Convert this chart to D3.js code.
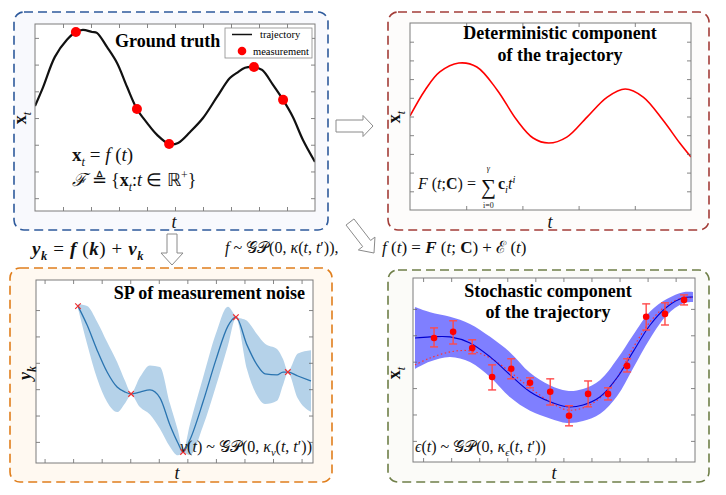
<!DOCTYPE html>
<html><head><meta charset="utf-8">
<script src="https://cdn.jsdelivr.net/npm/d3@7"></script>
<style>body{margin:0;background:#fff}svg{display:block}text{white-space:pre}</style>
</head><body><svg id="c" width="726" height="495"></svg>
<script>
// ---------------- DATA ----------------
// Panel 1: ground truth trajectory
const gtT = [0,0.29,0.71,1.14,1.46,1.71,2.04,2.21,2.57,2.93,3.29,3.64,4.00,4.36,4.79,5.11,5.54,6.00,6.50,6.96,7.21,7.50,7.82,8.11,8.50,8.86,9.21,9.57,10];
const gtX = [4.45,5.16,6.29,6.93,7.22,7.30,7.22,7.19,6.66,6.06,5.16,4.34,3.82,3.37,3.03,3.07,3.48,4.00,4.79,5.50,5.69,5.88,5.91,5.80,5.24,4.68,4.04,3.18,2.36];
const gtMeasT = [1.46,3.64,4.79,7.82,8.86];
const gtMeasX = [7.22,4.34,3.03,5.91,4.68];
const gtXTicks = [1,2,3,4,5,6,7,8,9];
const gtYTicks = [1,2,3,4,5,6,7];

// Panel 2: deterministic component
const detT = [0,0.27,0.53,0.87,1.19,1.55,1.90,2.19,2.47,2.79,3.15,3.51,3.83,4.15,4.50,4.80,5.00];
const detX = [5.03,6.42,7.38,7.86,7.65,6.42,4.81,3.85,3.58,3.90,4.97,6.04,6.47,6.04,4.81,3.58,2.83];
const detXTicks = [1,2,3,4];
const detYTicks = [1,2,3,4,5,6,7,8,9];

// Panel 3: SP of measurement noise
const noiseT = [1.17,1.49,1.84,2.19,2.54,2.82,3.03,3.34,3.69,4.04,4.39,4.67,4.85,5.09,5.55,6.00,6.42,6.70,7.09,7.44,7.72,8.14,8.35,8.52,8.87,9.33];
const noiseMean = [5.15,4.43,3.48,2.65,2.08,1.89,1.82,1.89,1.97,1.67,0.64,-0.04,-0.38,0.08,1.52,3.11,4.39,4.73,3.67,2.92,2.58,2.54,2.65,2.65,2.50,2.31];
const noiseSd = [0.08,0.72,1.08,1.14,0.95,0.42,0.04,0.57,0.93,1.17,0.82,0.47,0.04,0.58,0.92,1.00,0.74,0.04,0.92,1.16,1.14,0.98,0.49,0.04,0.85,1.17];
const noiseMeasT = [1.17,3.03,4.85,6.70,8.52];
const noiseMeasV = [5.15,1.82,-0.38,4.73,2.65];
const noiseXTicks = [0,1,2,3,4,5,6,7,8,9];
const noiseYTicks = [0,1,2,3,4,5];

// Panel 4: stochastic component
const stoT = [-0.29,0.25,0.96,1.67,2.39,3.10,3.81,4.52,5.13,5.70,6.31,6.91,7.48,8.09,8.70,9.27,9.62];
const stoMean = [3.90,3.94,3.94,3.71,3.18,2.50,1.86,1.48,1.29,1.36,1.67,2.39,3.37,4.39,5.08,5.42,5.45];
const stoSd = [1.17,0.93,0.76,0.72,0.76,0.85,0.72,0.63,0.61,0.61,0.64,0.70,0.63,0.51,0.30,0.21,0.19];
const stoDet = [2.88,3.14,3.37,3.41,3.14,2.61,2.01,1.48,1.17,1.25,1.63,2.39,3.52,4.51,5.15,5.42,5.42];
const obsT = [0.39,1.07,1.75,2.46,3.14,3.81,4.53,5.20,5.88,6.59,7.27,7.95,8.62,9.30];
const obsV = [3.90,4.13,3.52,2.42,2.73,2.20,1.86,0.95,1.78,1.78,2.84,4.70,4.81,5.34];
const obsLo = [3.56,3.67,3.30,1.93,2.35,2.01,1.36,0.57,1.29,1.55,2.61,4.20,4.39,5.15];
const obsHi = [4.28,4.55,3.83,2.88,3.11,2.39,2.35,1.33,2.27,2.01,3.11,5.19,5.23,5.53];
const stoXTicks = [0,1,2,3,4,5,6,7,8,9];
const stoYTicks = [0,1,2,3,4,5];

// ---------------- LAYOUT ----------------
const serif = "'Liberation Serif','Times New Roman',serif";
const svg = d3.select('#c');

function styleOf(sel, st) {
  if (st.includes('i')) sel.attr('font-style', 'italic');
  if (st.includes('b')) sel.attr('font-weight', 'bold');
}
function measure(s, size, st = '') {
  const t = svg.append('text').attr('font-family', serif).attr('font-size', size).text(s);
  styleOf(t, st);
  const w = t.node().getComputedTextLength();
  t.remove();
  return w;
}
// parts: [text, style, extra]; style: i=italic, b=bold, _=subscript, ^=superscript
function mtext(g, x, y, parts, fs, opts = {}) {
  const t = g.append('text').attr('x', x).attr('y', y)
    .attr('font-family', serif).attr('font-size', fs).attr('fill', '#111');
  if (opts.anchor) t.attr('text-anchor', opts.anchor);
  if (opts.transform) t.attr('transform', opts.transform);
  if (opts.ls) t.attr('letter-spacing', opts.ls);
  let cur = 0;
  parts.forEach(p => {
    const s = p[0], st = p[1] || '', ex = p[2] || {};
    const sp = t.append('tspan').text(s);
    let off = 0, size = fs;
    if (st.includes('_')) { off = fs * 0.28; size = fs * 0.66; }
    if (st.includes('^')) { off = -fs * 0.38; size = fs * 0.66; }
    if (ex.off !== undefined) off = ex.off;
    if (ex.size !== undefined) size = ex.size;
    sp.attr('dy', off - cur); cur = off;
    if (ex.dx !== undefined) sp.attr('dx', ex.dx);
    sp.attr('font-size', size);
    styleOf(sp, st);
  });
  return t;
}

function panel(cfg, id) {
  const [bx0, by0, bx1, by1] = cfg.box;
  svg.append('rect').attr('x', bx0).attr('y', by0).attr('width', bx1 - bx0).attr('height', by1 - by0)
    .attr('rx', 10).attr('fill', cfg.fill).attr('stroke', cfg.stroke)
    .attr('stroke-width', 1.6).attr('stroke-dasharray', '9,5');
  const [px0, py0, px1, py1] = cfg.plot;
  const x = d3.scaleLinear().domain(cfg.xDom).range([px0, px1]);
  const y = d3.scaleLinear().domain(cfg.yDom).range([py1, py0]);
  const g = svg.append('g');
  g.append('rect').attr('x', px0).attr('y', py0).attr('width', px1 - px0).attr('height', py1 - py0)
    .attr('fill', '#fff');
  svg.append('clipPath').attr('id', id).append('rect')
    .attr('x', px0).attr('y', py0).attr('width', px1 - px0).attr('height', py1 - py0);
  const inner = g.append('g').attr('clip-path', `url(#${id})`);
  const axes = [
    [d3.axisBottom(x).tickValues(cfg.xTicks), `translate(0,${py1})`],
    [d3.axisTop(x).tickValues(cfg.xTicks), `translate(0,${py0})`],
    [d3.axisLeft(y).tickValues(cfg.yTicks), `translate(${px0},0)`],
    [d3.axisRight(y).tickValues(cfg.yTicks), `translate(${px1},0)`]
  ];
  const top = svg.append('g');
  axes.forEach(([ax, tr]) => {
    const a = top.append('g').attr('transform', tr)
      .call(ax.tickSize(-4).tickSizeOuter(0).tickFormat(''));
    a.select('.domain').remove();
    a.selectAll('line').attr('stroke', '#666').attr('stroke-width', 0.8);
  });
  top.append('rect').attr('x', px0).attr('y', py0).attr('width', px1 - px0).attr('height', py1 - py0)
    .attr('fill', 'none').attr('stroke', '#7d7d7d').attr('stroke-width', 1);
  return { g, inner, top, x, y };
}

function arrow(x0, y0, x1, y1, sw, hw, hl) {
  const L = Math.hypot(x1 - x0, y1 - y0), ux = (x1 - x0) / L, uy = (y1 - y0) / L;
  const nx = -uy, ny = ux;
  const bx = x1 - ux * hl, by = y1 - uy * hl;
  const pts = [
    [x0 + nx * sw / 2, y0 + ny * sw / 2], [bx + nx * sw / 2, by + ny * sw / 2],
    [bx + nx * hw / 2, by + ny * hw / 2], [x1, y1],
    [bx - nx * hw / 2, by - ny * hw / 2], [bx - nx * sw / 2, by - ny * sw / 2],
    [x0 - nx * sw / 2, y0 - ny * sw / 2]
  ];
  svg.append('polygon').attr('points', pts.map(p => p.join(',')).join(' '))
    .attr('fill', '#fff').attr('stroke', '#8a8a8a').attr('stroke-width', 1);
}

// ---------------- PANEL 1 ----------------
{
  const P = panel({ box: [14, 12, 328, 230], fill: '#f8f9fd', stroke: '#2e5a9c',
    plot: [35, 24, 315, 211], xDom: [0, 10], yDom: [0.52, 7.52], xTicks: gtXTicks, yTicks: gtYTicks }, 'c1');
  const line = d3.line().x((d, i) => P.x(gtT[i])).y(d => P.y(d)).curve(d3.curveCatmullRom.alpha(0.5));
  P.inner.append('path').attr('d', line(gtX)).attr('fill', 'none').attr('stroke', '#111').attr('stroke-width', 2.2);
  P.inner.selectAll('circle.m').data(gtMeasX).join('circle')
    .attr('cx', (d, i) => P.x(gtMeasT[i])).attr('cy', d => P.y(d)).attr('r', 5).attr('fill', '#f00');
  P.top.append('text').attr('x', 115).attr('y', 47).attr('font-family', serif).attr('font-weight', 'bold')
    .attr('font-size', 18).text('Ground truth');
  // legend
  P.top.append('rect').attr('x', 225).attr('y', 28).attr('width', 87).attr('height', 30)
    .attr('fill', '#fff').attr('stroke', '#8a8a8a').attr('stroke-width', 0.8);
  P.top.append('line').attr('x1', 232).attr('x2', 252).attr('y1', 34.5).attr('y2', 34.5)
    .attr('stroke', '#111').attr('stroke-width', 1.5);
  P.top.append('text').attr('x', 260).attr('y', 38).attr('font-family', serif).attr('font-size', 10.5).text('trajectory');
  P.top.append('circle').attr('cx', 242).attr('cy', 51).attr('r', 4.3).attr('fill', '#f00');
  P.top.append('text').attr('x', 253).attr('y', 54.5).attr('font-family', serif).attr('font-size', 10.5).text('measurement');
  mtext(P.top, 72, 161, [['x', 'b'], ['t', '_i'], [' = '], ['f', 'i'], [' ('], ['t', 'i'], [')']], 19);
  mtext(P.top, 72, 186, [['ℱ', 'i'], [' ≜ '], ['{'], ['x', 'b'], ['t', '_i'], [':'], ['t', 'i'], [' ∈ ℝ'], ['+', '^'], ['}']], 18);
  mtext(svg, 0, 0, [['x', 'b'], ['t', '_i']], 18, { anchor: 'middle', transform: 'translate(26,118) rotate(-90)' });
  mtext(svg, 174, 228, [['t', 'i']], 18, { anchor: 'middle' });
}

// ---------------- PANEL 2 ----------------
{
  const P = panel({ box: [388, 12, 709, 230], fill: '#fdfcfb', stroke: '#a33d38',
    plot: [410, 23, 691, 210], xDom: [0, 5], yDom: [0, 10], xTicks: detXTicks, yTicks: detYTicks }, 'c2');
  const line = d3.line().x((d, i) => P.x(detT[i])).y(d => P.y(d)).curve(d3.curveCatmullRom.alpha(0.5));
  P.inner.append('path').attr('d', line(detX)).attr('fill', 'none').attr('stroke', '#f00').attr('stroke-width', 1.6);
  P.top.append('text').attr('x', 560).attr('y', 39).attr('text-anchor', 'middle').attr('font-family', serif)
    .attr('font-weight', 'bold').attr('font-size', 18).text('Deterministic component');
  P.top.append('text').attr('x', 560).attr('y', 61).attr('text-anchor', 'middle').attr('font-family', serif)
    .attr('font-weight', 'bold').attr('font-size', 18).text('of the trajectory');
  // F(t;C) = sum_{i=0}^{gamma} c_i t^i as one text element
  const fsz = 16, sgs = 21, lim = 8;
  const wS = measure('∑', sgs), wG = measure('γ', lim, 'i'), wI = measure('i=0', lim);
  mtext(P.top, 418, 189, [
    ['F', 'i'], [' ('], ['t', 'i'], [';'], ['C', 'b'], [') = '],
    ['∑', '', { size: sgs, off: 5, dx: 1 }],
    ['γ', 'i', { size: lim, off: -18, dx: -(wS + wG) / 2 }],
    ['i=0', '', { size: lim, off: 19, dx: -(wG + wI) / 2 }],
    ['c', 'b', { off: 0, dx: (wS - wI) / 2 + 2 }], ['i', '_i'], ['t', 'i'], ['i', '^i']
  ], fsz);
  mtext(svg, 0, 0, [['x', 'b'], ['t', '_i']], 18, { anchor: 'middle', transform: 'translate(400,117) rotate(-90)' });
  mtext(svg, 550, 228, [['t', 'i']], 18, { anchor: 'middle' });
}

// ---------------- PANEL 3 ----------------
{
  const P = panel({ box: [10, 268, 332, 482], fill: '#fff9f1', stroke: '#e07e1c',
    plot: [36, 280, 313, 463], xDom: [-0.3, 9.4], yDom: [-0.8, 6.14], xTicks: noiseXTicks, yTicks: noiseYTicks }, 'c3');
  const area = d3.area().x((d, i) => P.x(noiseT[i]))
    .y0((d, i) => P.y(d - noiseSd[i])).y1((d, i) => P.y(d + noiseSd[i])).curve(d3.curveMonotoneX);
  P.inner.append('path').attr('d', area(noiseMean)).attr('fill', '#b5d2e9');
  const line = d3.line().x((d, i) => P.x(noiseT[i])).y(d => P.y(d)).curve(d3.curveMonotoneX);
  P.inner.append('path').attr('d', line(noiseMean)).attr('fill', 'none').attr('stroke', '#2a74b0').attr('stroke-width', 1.3);
  P.inner.selectAll('path.m').data(noiseMeasV).join('path')
    .attr('transform', (d, i) => `translate(${P.x(noiseMeasT[i])},${P.y(d)})`)
    .attr('d', d3.symbol(d3.symbolTimes, 22)).attr('fill', 'none').attr('stroke', '#f03030').attr('stroke-width', 1.2);
  P.top.append('text').attr('x', 305).attr('y', 299).attr('text-anchor', 'end').attr('font-family', serif)
    .attr('font-weight', 'bold').attr('font-size', 18).text('SP of measurement noise');
  mtext(P.top, 180, 452, [['v', 'i'], ['('], ['t', 'i'], [') ~ '], ['𝒢𝒫'], ['(0, '], ['κ', 'i'], ['v', '_i'], ['('], ['t', 'i'], [', '], ['t', 'i'], ['′))']], 16);
  mtext(svg, 0, 0, [['y', 'bi'], ['k', '_bi']], 18, { anchor: 'middle', transform: 'translate(31,373) rotate(-90)' });
  mtext(svg, 177, 479, [['t', 'i']], 18, { anchor: 'middle' });
}

// ---------------- PANEL 4 ----------------
{
  const P = panel({ box: [388, 270, 709, 482], fill: '#fbfbf8', stroke: '#6f7f48',
    plot: [413, 278, 695, 462], xDom: [-0.36, 9.69], yDom: [-0.8, 6.17], xTicks: stoXTicks, yTicks: stoYTicks }, 'c4');
  const area = d3.area().x((d, i) => P.x(stoT[i]))
    .y0((d, i) => P.y(d - stoSd[i])).y1((d, i) => P.y(d + stoSd[i])).curve(d3.curveCatmullRom.alpha(0.5));
  P.inner.append('path').attr('d', area(stoMean)).attr('fill', '#7f7fff');
  const line = d3.line().x((d, i) => P.x(stoT[i])).y(d => P.y(d)).curve(d3.curveCatmullRom.alpha(0.5));
  P.inner.append('path').attr('d', line(stoDet)).attr('fill', 'none').attr('stroke', '#f33')
    .attr('stroke-width', 1.2).attr('stroke-dasharray', '1.5,2.5');
  P.inner.append('path').attr('d', line(stoMean)).attr('fill', 'none').attr('stroke', '#0000d0').attr('stroke-width', 1.1);
  const eb = P.inner.append('g').attr('stroke', '#ff4a4a').attr('stroke-width', 1.4);
  obsT.forEach((t, i) => {
    const cx = P.x(t);
    eb.append('line').attr('x1', cx).attr('x2', cx).attr('y1', P.y(obsLo[i])).attr('y2', P.y(obsHi[i]));
    eb.append('line').attr('x1', cx - 4).attr('x2', cx + 4).attr('y1', P.y(obsLo[i])).attr('y2', P.y(obsLo[i]));
    eb.append('line').attr('x1', cx - 4).attr('x2', cx + 4).attr('y1', P.y(obsHi[i])).attr('y2', P.y(obsHi[i]));
  });
  P.inner.selectAll('circle.o').data(obsV).join('circle')
    .attr('cx', (d, i) => P.x(obsT[i])).attr('cy', d => P.y(d)).attr('r', 3.3).attr('fill', '#f00');
  P.top.append('text').attr('x', 548).attr('y', 297).attr('text-anchor', 'middle').attr('font-family', serif)
    .attr('font-weight', 'bold').attr('font-size', 18).text('Stochastic component');
  P.top.append('text').attr('x', 548).attr('y', 318).attr('text-anchor', 'middle').attr('font-family', serif)
    .attr('font-weight', 'bold').attr('font-size', 18).text('of the trajectory');
  mtext(P.top, 415, 452, [['ϵ', 'i'], ['('], ['t', 'i'], [') ~ '], ['𝒢𝒫'], ['(0, '], ['κ', 'i'], ['ϵ', '_i'], ['('], ['t', 'i'], [', '], ['t', 'i'], ['′))']], 16);
  mtext(svg, 0, 0, [['x', 'b'], ['t', '_i']], 18, { anchor: 'middle', transform: 'translate(400,373) rotate(-90)' });
  mtext(svg, 554, 479, [['t', 'i']], 18, { anchor: 'middle' });
}

// ---------------- CONNECTORS ----------------
arrow(336, 126, 373, 126, 12, 21, 10);
arrow(172, 234, 172, 265, 10, 22, 12);
arrow(350, 222, 374, 253, 10, 21, 12);
mtext(svg, 32, 255, [['y', 'bi'], ['k', '_bi'], [' = '], ['f', 'bi'], [' ('], ['k', 'bi'], [') + '], ['v', 'bi'], ['k', '_bi']], 19, { ls: 0.6 });
mtext(svg, 225, 253, [['f', 'i'], [' ~ '], ['𝒢𝒫'], ['(0, '], ['κ', 'i'], ['('], ['t', 'i'], [', '], ['t', 'i'], ['′)),']], 16);
mtext(svg, 382, 253, [['f', 'i'], [' ('], ['t', 'i'], [') = '], ['F', 'bi'], [' ('], ['t', 'i'], ['; '], ['C', 'b'], [') + ℰ ('], ['t', 'i'], [')']], 17);
</script>
</body></html>
